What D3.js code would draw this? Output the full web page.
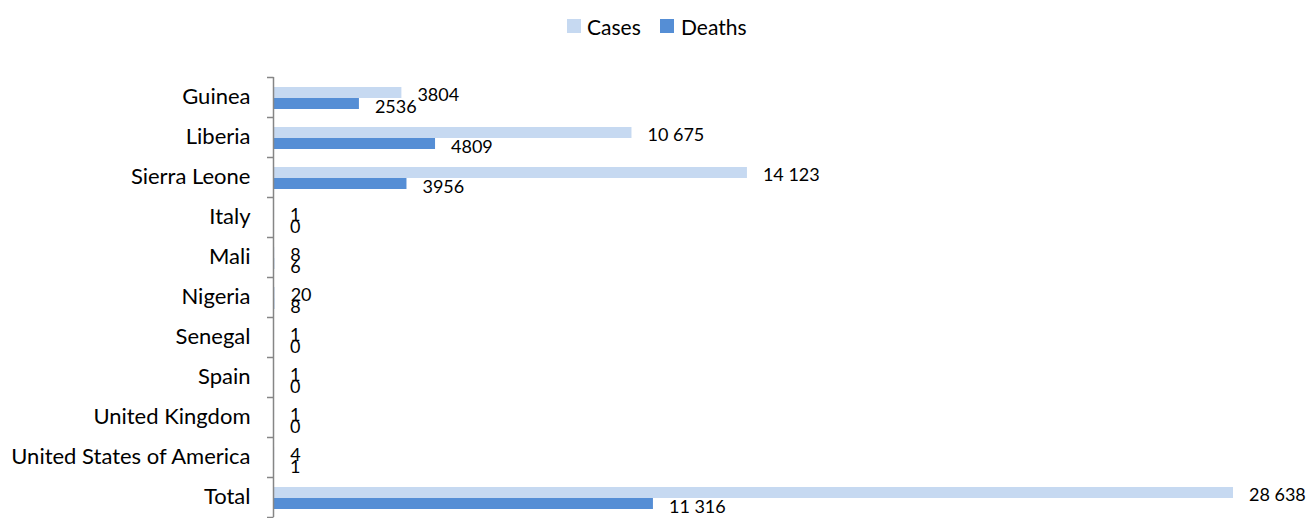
<!DOCTYPE html>
<html>
<head>
<meta charset="utf-8">
<script src="https://cdn.jsdelivr.net/npm/d3@7/dist/d3.min.js"></script>
<style>
  html, body { margin: 0; padding: 0; background: #ffffff; }
  svg { display: block; }
  text { font-family: Lato, "Open Sans", sans-serif; fill: #000; }
</style>
</head>
<body>
<svg id="chart" width="1309" height="518"></svg>
<script>
const categories = ["Guinea", "Liberia", "Sierra Leone", "Italy", "Mali", "Nigeria",
  "Senegal", "Spain", "United Kingdom", "United States of America", "Total"];
const cases  = [3804, 10675, 14123, 1, 8, 20, 1, 1, 1, 4, 28638];
const deaths = [2536, 4809, 3956, 0, 6, 8, 0, 0, 0, 1, 11316];
const seriesNames = ["Cases", "Deaths"];
const seriesColors = ["#C6D9F1", "#558ED5"];

const svg = d3.select("#chart");

const x = d3.scaleLinear().domain([0, 28638]).range([274, 1233]);
const y = d3.scaleBand().domain(categories).range([77, 517]).padding(0);
const bw = y.bandwidth();
const barH = bw * 0.275;
const groupTop = bw * 0.25;

const fmt = v => {
  const s = String(v);
  return v >= 10000 ? s.replace(/\B(?=(\d{3})+(?!\d))/g, " ") : s;
};

// bars
const series = [cases, deaths];
series.forEach((vals, si) => {
  svg.append("g").selectAll("rect")
    .data(categories.map((c, i) => ({ c, v: vals[i] })))
    .join("rect")
    .attr("x", x(0))
    .attr("y", d => y(d.c) + groupTop + si * barH)
    .attr("width", d => Math.max(0, x(d.v) - x(0)))
    .attr("height", barH)
    .attr("fill", seriesColors[si]);
});

// value labels
series.forEach((vals, si) => {
  svg.append("g").selectAll("text")
    .data(categories.map((c, i) => ({ c, v: vals[i] })))
    .join("text")
    .attr("x", d => x(d.v) + 16)
    .attr("y", d => y(d.c) + groupTop + si * barH + barH / 2 + (si === 0 ? 1 : 2))
    .attr("dominant-baseline", "central")
    .attr("font-size", 18)
    .text(d => fmt(d.v));
});

// y axis
const axis = d3.axisLeft(y).tickSize(0).tickPadding(23);
const ag = svg.append("g").attr("transform", "translate(273.5,0)").call(axis);
ag.select(".domain").remove();
ag.selectAll("text").attr("font-size", 22).attr("font-family", "Lato, sans-serif")
  .attr("fill", "#000").attr("dy", "0.34em");

// axis line and boundary ticks
const boundaries = categories.map(c => y(c)).concat([y.range()[1]]);
svg.append("line")
  .attr("x1", 273.5).attr("x2", 273.5)
  .attr("y1", boundaries[0]).attr("y2", boundaries[boundaries.length - 1])
  .attr("stroke", "#868686").attr("stroke-width", 1.5);
svg.append("g").selectAll("line")
  .data(boundaries)
  .join("line")
  .attr("x1", 267).attr("x2", 273.5)
  .attr("y1", d => Math.round(d) + 0.5).attr("y2", d => Math.round(d) + 0.5)
  .attr("stroke", "#868686").attr("stroke-width", 1.5);

// legend
const legendItems = [
  { name: seriesNames[0], color: seriesColors[0], sx: 567, tx: 587 },
  { name: seriesNames[1], color: seriesColors[1], sx: 660, tx: 681 }
];
const lg = svg.append("g");
legendItems.forEach(it => {
  lg.append("rect").attr("x", it.sx).attr("y", 19).attr("width", 14).attr("height", 14).attr("fill", it.color);
  lg.append("text").attr("x", it.tx).attr("y", 26).attr("dominant-baseline", "central")
    .attr("font-size", 21).text(it.name);
});
</script>
</body>
</html>
